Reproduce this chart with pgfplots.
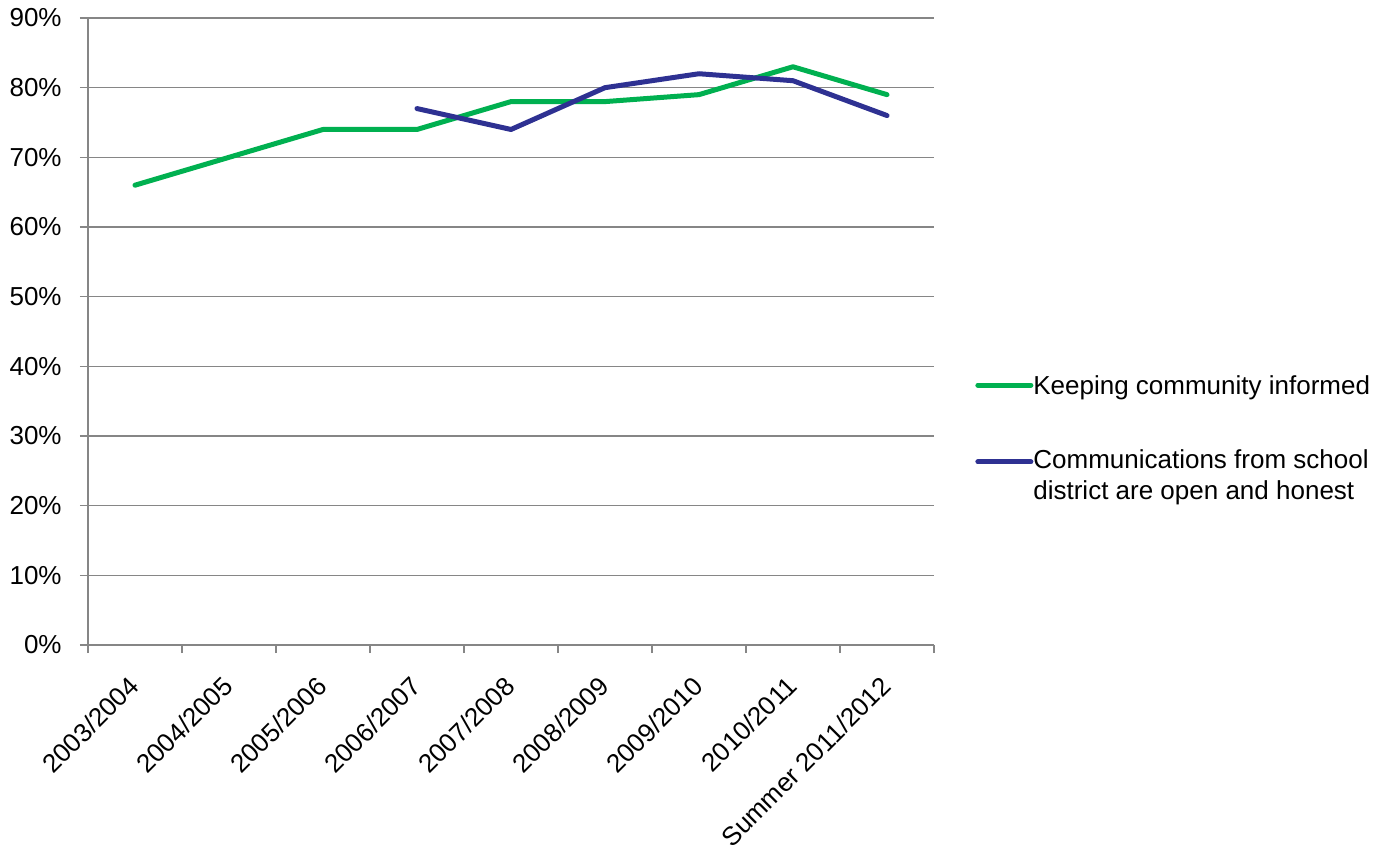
\documentclass[border=0pt]{standalone}
\usepackage{fontspec}
\setmainfont{Liberation Sans}
\usepackage{pgfplots}
\pgfplotsset{compat=1.18}

\definecolor{seriesgreen}{HTML}{00B050}
\definecolor{seriesblue}{HTML}{2E3192}
\definecolor{gridgray}{HTML}{868686}

% legend swatch: a short rounded line, raised by #1 above the cell's base
\pgfplotsset{
  swatch/.style={
    legend image code/.code={
      \path (0pt,#1) -- (26.5pt,#1);
      \draw[##1, line cap=round] (1.25pt,#1) -- (25.25pt,#1);
    },
  },
}

\begin{document}
\begin{tikzpicture}
\begin{axis}[
  scale only axis,
  width=423pt, height=313.5pt,
  xmin=-0.5, xmax=8.5,
  ymin=0, ymax=90,
  axis lines=left,
  axis line style={-, draw=gridgray, line width=0.75pt},
  tick align=outside,
  tick label style={font=\fontsize{13}{15.5}\selectfont},
  % categories at 0..8, tick marks on the boundaries between them
  xtick={0,...,8},
  xticklabels={2003/2004,2004/2005,2005/2006,2006/2007,2007/2008,2008/2009,2009/2010,2010/2011,Summer 2011/2012},
  xtick style={draw=none},
  minor xtick={-0.5,0.5,...,8.5},
  minor x tick style={draw=gridgray, line width=0.75pt},
  minor tick length=4pt,
  x tick label style={xshift=-4pt, yshift=-10.5pt, rotate=45, anchor=north east, inner sep=0pt},
  ytick={0,10,...,90},
  yticklabels={0\%,10\%,20\%,30\%,40\%,50\%,60\%,70\%,80\%,90\%},
  ytick style={draw=gridgray, line width=0.75pt},
  major tick length=4pt,
  y tick label style={anchor=east, inner sep=0pt, xshift=-9pt},
  ymajorgrids,
  major grid style={draw=gridgray, line width=0.75pt},
  legend cell align=left,
  legend style={
    at={(axis description cs:1.04846,0.43062)}, anchor=north west,
    draw=none, fill=none, inner sep=0pt,
    column sep=0pt, row sep=26.3pt,
    font=\fontsize{13}{15.5}\selectfont,
    nodes={inner sep=0pt, align=left},
  },
]
\coordinate (bl) at (rel axis cs:0,0);

\addplot[seriesgreen, line width=2.5pt, line cap=round, line join=round, swatch=0.65pt]
  coordinates {(0,66) (1,70) (2,74) (3,74) (4,78) (5,78) (6,79) (7,83) (8,79)};
\addlegendentry{Keeping community informed}

\addplot[seriesblue, line width=2.5pt, line cap=round, line join=round, swatch=7.15pt]
  coordinates {(3,77) (4,74) (5,80) (6,82) (7,81) (8,76)};
\addlegendentry{Communications from school\\district are open and honest}
\end{axis}
\pgfresetboundingbox
\path[use as bounding box] (bl) ++(-44pt,-103pt) rectangle ++(694pt,425.5pt);
\end{tikzpicture}
\end{document}
